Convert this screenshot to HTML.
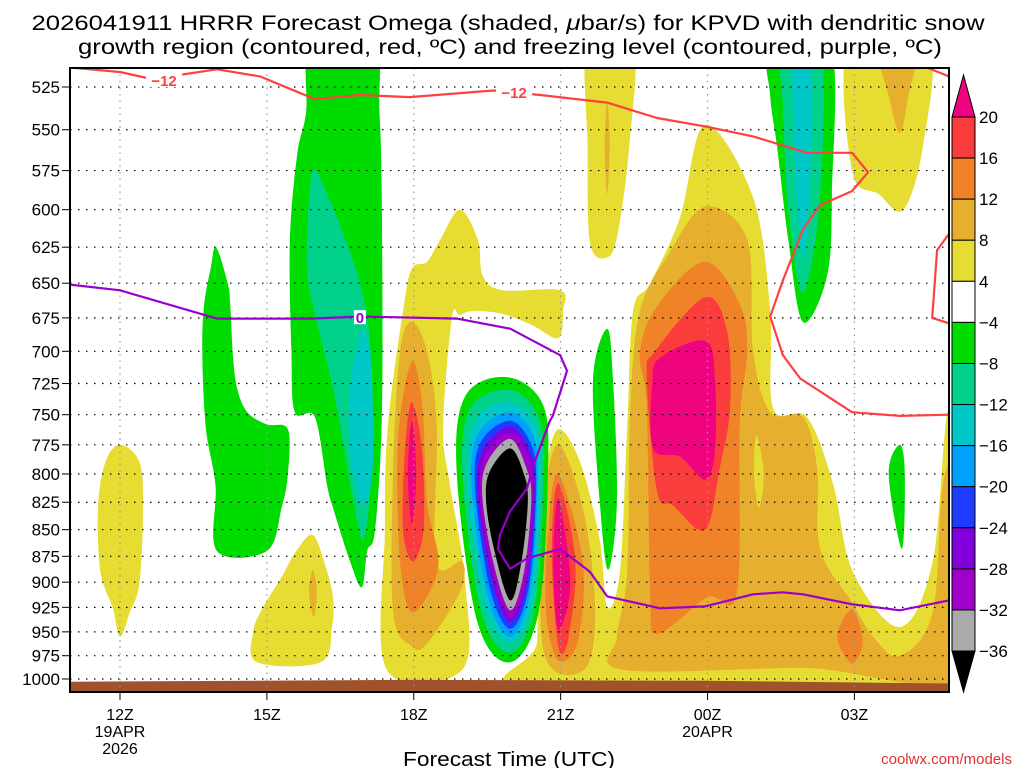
<!DOCTYPE html>
<html><head><meta charset="utf-8"><style>
body{margin:0;background:#fff;}
svg{display:block;font-family:"Liberation Sans","DejaVu Sans",sans-serif;}
</style></head><body>
<svg id="c" width="1024" height="768" viewBox="0 0 1024 768">
<defs><clipPath id="pc"><rect x="70" y="68" width="879" height="624"/></clipPath></defs>
<text x="508" y="30" text-anchor="middle" font-size="21" textLength="953" lengthAdjust="spacingAndGlyphs">2026041911 HRRR Forecast Omega (shaded, <tspan font-style="italic">μ</tspan>bar/s) for KPVD with dendritic snow</text>
<text x="510" y="54" text-anchor="middle" font-size="21" textLength="864" lengthAdjust="spacingAndGlyphs">growth region (contoured, red, ºC) and freezing level (contoured, purple, ºC)</text>
<g id="fills" clip-path="url(#pc)"></g>
<g id="grid"></g>
<g id="lines" clip-path="url(#pc)"></g>
<rect x="70" y="68" width="879" height="624" fill="none" stroke="#000" stroke-width="2"/>
<g id="axes"></g>
<g id="cbar"></g>
<text x="509" y="766" text-anchor="middle" font-size="20" textLength="212" lengthAdjust="spacingAndGlyphs">Forecast Time (UTC)</text>
<text x="1012" y="764" text-anchor="end" font-size="15" fill="#e03030">coolwx.com/models</text>
</svg>
<script>
const pLevels=[525,550,575,600,625,650,675,700,725,750,775,800,825,850,875,900,925,950,975,1000];
const xTickHours=[0,3,6,9,12,15];
const xTickLabels=[["12Z","19APR","2026"],["15Z"],["18Z"],["21Z"],["00Z","20APR"],["03Z"]];
const cbarLevels=[20,16,12,8,4,-4,-8,-12,-16,-20,-24,-28,-32,-36];
const cbarColors=["#fa3c3c","#f08228","#e6af2d","#e6dc32","#ffffff","#00dc00","#00d28c","#00c8c8","#00a0ff","#1e3cff","#8200dc","#a000c8","#aaaaaa"];
const yellow12=[[0,775],[0.4,790],[0.47,830],[0.4,900],[0.2,930],[0,955],[-0.15,925],[-0.4,890],[-0.45,830],[-0.3,790]];
const green14=[[1.96,625],[2.2,650],[2.25,665],[2.31,705],[2.4,730],[2.6,748],[3.0,758],[3.43,762],[3.43,800],[3.3,830],[3.0,870],[1.98,870],[1.95,810],[1.75,760],[1.68,700],[1.72,665],[1.85,640]];
const green16=[[3.92,500],[3.8,540],[3.62,565],[3.47,620],[3.5,700],[3.57,748],[3.98,752],[4.23,810],[4.35,830],[4.7,880],[4.94,905],[5.05,870],[5.21,850],[5.35,750],[5.35,600],[5.3,540],[5.17,500]];
const teal16=[[3.94,575],[4.3,595],[4.6,620],[4.9,650],[5.1,690],[5.17,760],[5.1,820],[4.96,860],[4.75,820],[4.5,760],[4.3,720],[4.1,690],[3.85,650],[3.82,620]];
const cyan16=[[4.96,683],[5.12,710],[5.17,780],[5.1,815],[4.9,825],[4.7,780],[4.68,735],[4.8,705]];
const yellow15=[[3.94,855],[4.2,885],[4.35,915],[4.33,945],[4.1,982],[2.8,982],[2.72,950],[2.92,925],[3.3,895],[3.6,870]];
const gold15=[[3.94,888],[4.02,910],[3.96,935],[3.86,910]];
const yellow18=[[6.94,600],[7.31,620],[7.41,645],[7.82,655],[8.99,655],[9.05,670],[8.95,690],[8.4,680],[7.8,672],[7.2,670],[6.94,673],[6.78,675],[6.6,760],[6.74,810],[7.05,900],[6.99,990],[5.45,990],[5.41,850],[5.47,760],[5.78,670],[5.96,640],[6.27,635],[6.54,620]];
const gold18=[[5.96,678],[6.27,700],[6.47,760],[6.45,880],[6.99,880],[6.94,910],[6.27,962],[5.96,965],[5.58,930],[5.58,795],[5.72,700]];
const orange18=[[5.96,708],[6.18,745],[6.27,825],[6.5,885],[5.98,930],[5.72,880],[5.68,770]];
const red18=[[5.96,740],[6.17,780],[6.2,850],[5.98,880],[5.78,850],[5.82,780]];
const pink18=[[5.96,755],[6.05,800],[5.96,845],[5.88,800]];
const green20=[[7.92,720],[8.64,742],[8.74,800],[8.55,930],[7.97,982],[7.3,940],[6.88,800],[7.05,735]];
const teal20=[[7.95,730],[8.55,752],[8.65,805],[8.47,925],[7.97,972],[7.38,930],[7.0,805],[7.15,745]];
const cyan20=[[7.96,740],[8.5,760],[8.58,808],[8.42,918],[7.97,962],[7.44,920],[7.1,808],[7.25,755]];
const ltblue20=[[7.97,748],[8.45,768],[8.53,810],[8.38,910],[7.97,955],[7.5,912],[7.18,810],[7.32,765]];
const blue20=[[7.97,755],[8.4,775],[8.5,812],[8.35,905],[7.97,947],[7.55,905],[7.25,812],[7.38,772]];
const violet20=[[7.97,760],[8.38,782],[8.47,815],[8.32,900],[7.97,940],[7.58,895],[7.3,815],[7.43,778]];
const purple20=[[7.97,765],[8.35,788],[8.44,818],[8.3,895],[7.97,935],[7.6,888],[7.35,818],[7.47,784]];
const gray20=[[7.97,770],[8.3,795],[8.4,822],[8.26,888],[7.97,928],[7.62,880],[7.4,820],[7.5,790]];
const black20=[[7.97,778],[8.25,800],[8.33,825],[8.2,880],[7.97,918],[7.65,870],[7.48,825],[7.55,798]];
const yellow22=[[9.56,500],[10.48,500],[10.4,560],[10.17,615],[9.95,632],[9.6,622],[9.55,560]];
const gold22=[[9.95,533],[10.0,560],[9.95,590],[9.9,560]];
const green22=[[9.95,683],[10.07,722],[10.15,825],[9.97,888],[9.8,825],[9.66,722]];
const green02=[[13.28,500],[14.5,500],[14.54,590],[14.44,645],[13.95,678],[13.65,620],[13.42,560],[13.28,530]];
const teal02=[[13.52,500],[14.3,500],[14.3,590],[13.95,657],[13.65,600],[13.55,540]];
const cyan02=[[13.75,500],[14.1,500],[14.1,580],[13.95,632],[13.8,580]];
const yellow03=[[14.9,500],[16.5,500],[16.4,560],[16.0,600],[15.5,590],[14.95,575]];
const gold03=[[15.48,500],[16.28,500],[16.1,530],[15.93,552],[15.7,530]];
const yellow00=[[11.95,547],[12.93,592],[13.28,670],[13.34,745],[14.03,752],[14.56,808],[14.97,890],[15.93,945],[16.6,880],[16.93,742],[17.5,720],[17.5,1010],[8.5,1010],[8.52,960],[8.6,850],[8.68,800],[8.95,762],[9.4,790],[9.8,860],[9.95,925],[10.21,890],[10.36,760],[10.48,670],[10.83,650],[11.44,605]];
const gold00=[[11.95,598],[12.81,620],[12.93,700],[13.28,748],[13.95,752],[14.24,795],[14.3,868],[14.95,920],[15.38,955],[15.93,975],[16.6,930],[16.85,800],[17.5,780],[17.5,990],[13.95,988],[10.27,990],[10.15,955],[10.36,890],[10.42,745],[10.62,670],[11.2,630]];
const yellowOval00=[[13.0,767],[13.15,800],[13.05,830],[12.95,800]];
const orange00=[[11.95,635],[12.66,665],[12.81,700],[12.66,755],[12.6,910],[11.99,915],[10.97,952],[10.83,910],[10.76,745],[10.62,700],[11.0,665]];
const red00=[[11.95,660],[12.4,685],[12.46,745],[12.25,795],[11.95,850],[11.3,828],[10.97,815],[10.76,720],[10.93,700]];
const pink00=[[11.95,692],[12.15,720],[12.15,780],[11.95,805],[11.44,785],[10.89,778],[10.87,725],[11.03,705]];
const gold21=[[8.95,775],[9.45,830],[9.7,920],[9.55,985],[8.9,992],[8.6,950],[8.65,830]];
const orange21=[[8.95,800],[9.45,880],[9.35,960],[8.95,980],[8.7,930],[8.75,850]];
const red21=[[8.95,808],[9.3,880],[9.15,958],[8.95,965],[8.82,870]];
const pink21=[[8.95,822],[9.2,900],[8.95,948],[8.85,880]];
const orange03=[[14.95,927],[15.17,960],[14.95,983],[14.65,955]];
const green03=[[15.93,775],[16.03,800],[15.97,868],[15.7,800]];
const redLineA=[[-1.02,514],[0,516.5],[0.65,520.5],[1.98,515],[2.86,519],[3.98,532],[4.9,529.6],[5.92,530.8],[7.62,527],[8.58,529.6],[9.95,534],[10.97,543],[11.95,548],[12.93,554],[14.03,564],[14.95,564],[15.28,576],[14.95,588],[14.3,597],[13.95,613],[13.54,648],[13.28,674],[13.54,703],[13.89,721],[14.95,748],[15.93,751],[16.93,750]];
const redLineB=[[16.93,616],[16.69,627],[16.59,675],[16.93,679]];
const redLineC=[[16.48,514],[16.93,519]];
const freezeLine=[[-1.02,651],[0,655],[1.98,675.5],[3.92,675.5],[4.9,674],[6.88,675.5],[7.97,683],[8.99,703],[9.13,715],[8.84,751],[8.78,755],[8.44,793],[8.31,813],[7.97,833],[7.76,855],[7.72,868],[7.97,887],[8.31,877],[8.99,868],[9.6,890],[9.95,914],[11.03,926],[11.95,924],[12.93,912],[13.54,910],[13.95,912],[14.97,922],[15.93,928],[16.93,918]];
const ground=[[-1.1,1003],[6,1001],[12,1002],[17,1005]];

const C={y:"#e6dc32",g:"#e6af2d",o:"#f08228",r:"#fa3c3c",p:"#f0037f",G:"#00dc00",T:"#00d28c",Cy:"#00c8c8",L:"#00a0ff",B:"#1e3cff",V:"#8200dc",P:"#a000c8",Gr:"#aaaaaa",K:"#000000",W:"#ffffff"};
const layers=[
 ["yellow-12z",yellow12,C.y],["green-14z",green14,C.G],["green-16z",green16,C.G],["teal-16z",teal16,C.T],["cyan-16z",cyan16,C.Cy],
 ["yellow-15z",yellow15,C.y],["gold-15z",gold15,C.g],
 ["yellow-18z",yellow18,C.y],["gold-18z",gold18,C.g],["orange-18z",orange18,C.o],["red-18z",red18,C.r],["pink-18z",pink18,C.p],
 ["yellow-00z",yellow00,C.y],["gold-00z",gold00,C.g],["yellow-oval-00z",yellowOval00,C.y],["orange-00z",orange00,C.o],["red-00z",red00,C.r],["pink-00z",pink00,C.p],
 ["gold-21z",gold21,C.g],["orange-21z",orange21,C.o],["red-21z",red21,C.r],["pink-21z",pink21,C.p],
 ["orange-03z",orange03,C.o],["green-03z",green03,C.G],
 ["green-20z",green20,C.G],["teal-20z",teal20,C.T],["cyan-20z",cyan20,C.Cy],["ltblue-20z",ltblue20,C.L],["blue-20z",blue20,C.B],["violet-20z",violet20,C.V],["purple-20z",purple20,C.P],["gray-20z",gray20,C.Gr],["black-20z",black20,C.K],
 ["yellow-22z",yellow22,C.y],["gold-22z",gold22,C.g],["green-22z",green22,C.G],
 ["green-02z",green02,C.G],["teal-02z",teal02,C.T],["cyan-02z",cyan02,C.Cy],
 ["yellow-03z",yellow03,C.y],["gold-03z",gold03,C.g]
];
const xS=h=>120+48.96*h;
const yS=p=>87+918.7*Math.log(p/525);
const NS="http://www.w3.org/2000/svg";
function mk(t,a,parent){const e=document.createElementNS(NS,t);for(const k in a)e.setAttribute(k,a[k]);parent.appendChild(e);return e;}
function smooth(pts){const P=pts.map(d=>[xS(d[0]),yS(d[1])]);const n=P.length;let s="M"+P[0][0].toFixed(1)+","+P[0][1].toFixed(1);
 for(let i=0;i<n;i++){const p0=P[(i-1+n)%n],p1=P[i],p2=P[(i+1)%n],p3=P[(i+2)%n];
  const c1=[p1[0]+(p2[0]-p0[0])/6,p1[1]+(p2[1]-p0[1])/6],c2=[p2[0]-(p3[0]-p1[0])/6,p2[1]-(p3[1]-p1[1])/6];
  s+="C"+c1[0].toFixed(1)+","+c1[1].toFixed(1)+" "+c2[0].toFixed(1)+","+c2[1].toFixed(1)+" "+p2[0].toFixed(1)+","+p2[1].toFixed(1);}
 return s+"Z";}
function poly(pts){return pts.map((d,i)=>(i?"L":"M")+xS(d[0]).toFixed(1)+","+yS(d[1]).toFixed(1)).join("");}
const fills=document.getElementById("fills");
for(const [nm,pts,col] of layers){const e=mk("path",{d:smooth(pts),fill:col},fills);
 
 }
const gp=ground.map(d=>[xS(d[0]),yS(d[1])]);
const ge=mk("path",{d:"M"+gp.map(p=>p[0]+","+p[1]).join("L")+"L1000,700L60,700Z",fill:"#a0522d"},fills);


const grid=document.getElementById("grid");
for(const p of pLevels){const e=mk("line",{x1:70,x2:949,y1:yS(p),y2:yS(p),stroke:"#000","stroke-width":1.2,"stroke-dasharray":"1.5 6.5"},grid);
 
 }
for(const h of xTickHours){const e=mk("line",{x1:xS(h),x2:xS(h),y1:68,y2:692,stroke:"#999","stroke-width":1.2,"stroke-dasharray":"1.5 5"},grid);
 
 }
const lines=document.getElementById("lines");
for(const [nm,arr,col] of [["dgz-line-a",redLineA,"#ff4040"],["dgz-line-b",redLineB,"#ff4040"],["dgz-line-c",redLineC,"#ff4040"],["freezing-line",freezeLine,"#9900cc"]]){
 const e=mk("path",{d:poly(arr),fill:"none",stroke:col,"stroke-width":2.2,"stroke-linejoin":"round"},lines);
 
 }
const lbls=[[0.9,521,"−12","#ff4040"],[8.05,528,"−12","#ff4040"],[4.9,674.5,"0","#9900cc"]];
for(const [h,p,t,col] of lbls){const x=xS(h),y=yS(p);
 const r=mk("rect",{x:x-(t.length*6),y:y-7,width:t.length*12,height:14,fill:"#fff"},lines);
 
 
 const e=mk("text",{x:x,y:y+6,"text-anchor":"middle","font-size":15,"font-weight":"bold",fill:col},lines);e.textContent=t;
 
 }
const axes=document.getElementById("axes");
for(const p of pLevels){const e=mk("text",{x:60,y:yS(p)+6,"text-anchor":"end","font-size":17},axes);e.textContent=p;
 
 
 const t=mk("line",{x1:62,x2:70,y1:yS(p),y2:yS(p),stroke:"#000","stroke-width":1},axes);
 
 }
xTickHours.forEach((h,i)=>{const x=xS(h);
 const t=mk("line",{x1:x,x2:x,y1:692,y2:700,stroke:"#000","stroke-width":1},axes);
 
 
 xTickLabels[i].forEach((s,j)=>{const e=mk("text",{x:x,y:720+j*17,"text-anchor":"middle","font-size":16},axes);e.textContent=s;
  
  });});
const cb=document.getElementById("cbar");const cbTop=117,step=41.08,cx=952,cw=23;
const tri1=mk("path",{d:`M${cx},${cbTop}L${cx+cw/2},75L${cx+cw},${cbTop}Z`,fill:"#f0037f",stroke:"#000","stroke-width":1},cb);


cbarColors.forEach((col,i)=>{const e=mk("rect",{x:cx,y:cbTop+i*step,width:cw,height:step,fill:col,stroke:"#000","stroke-width":1},cb);
 
 });
const cbBot=cbTop+cbarColors.length*step;
const tri2=mk("path",{d:`M${cx},${cbBot}L${cx+cw/2},692L${cx+cw},${cbBot}Z`,fill:"#000",stroke:"#000","stroke-width":1},cb);


cbarLevels.forEach((v,i)=>{const e=mk("text",{x:979,y:cbTop+i*step+6,"font-size":17},cb);e.textContent=v<0?"−"+(-v):String(v);
 
 });
</script>
</body></html>
